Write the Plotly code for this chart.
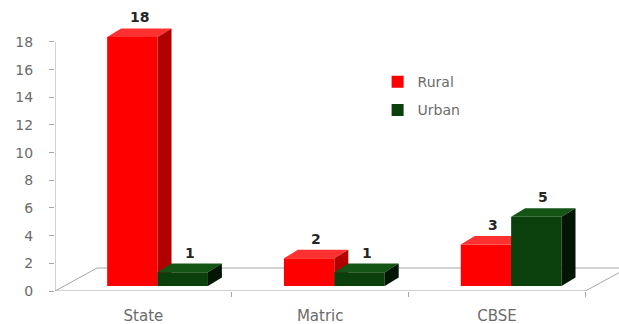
import plotly.graph_objects as go

# Data
categories = ["State", "Matric", "CBSE"]
rural = [18, 2, 3]
urban = [1, 1, 5]
y_ticks = [0, 2, 4, 6, 8, 10, 12, 14, 16, 18]

# Pseudo-3D geometry, in axis units
BAR_W = 0.285          # width of one bar's front face
RURAL_LEFT = -0.205    # left edge of the rural bar, relative to the category centre
URBAN_LEFT = RURAL_LEFT + BAR_W
BASE = 0.36            # front faces stand a little behind the floor's front edge
DEPTH_X, DEPTH_Y = 0.079, 0.62     # bar depth
FLOOR_X, FLOOR_Y = 0.238, 1.66     # floor depth
X0, X1 = -0.5, 2.5
X_RANGE = [-0.5, 2.69]
Y_RANGE = [0, 20.31]

FONT = "DejaVu Sans"
GREY = "#6b6b6b"

fig = go.Figure()


def add_series(name, values, left, front, top, side, xa, ya):
    n = len(values)
    fig.add_trace(go.Bar(
        x=[i + left + BAR_W / 2 for i in range(n)], y=values, base=[BASE] * n,
        width=BAR_W, name=name, marker=dict(color=front, line=dict(width=0)),
        xaxis=xa, yaxis=ya, hoverinfo="skip", legendgroup=name,
    ))
    for i, v in enumerate(values):
        xl = i + left
        xr = xl + BAR_W
        yt = BASE + v
        # top face
        fig.add_trace(go.Scatter(
            x=[xl, xr, xr + DEPTH_X, xl + DEPTH_X, xl],
            y=[yt, yt, yt + DEPTH_Y, yt + DEPTH_Y, yt],
            fill="toself", fillcolor=top, mode="lines", line=dict(width=0),
            showlegend=False, hoverinfo="skip", xaxis=xa, yaxis=ya,
        ))
        # right side face
        fig.add_trace(go.Scatter(
            x=[xr, xr + DEPTH_X, xr + DEPTH_X, xr, xr],
            y=[BASE, BASE + DEPTH_Y, yt + DEPTH_Y, yt, BASE],
            fill="toself", fillcolor=side, mode="lines", line=dict(width=0),
            showlegend=False, hoverinfo="skip", xaxis=xa, yaxis=ya,
        ))
        # value label above the bar
        fig.add_annotation(
            x=xl + BAR_W / 2 + DEPTH_X / 2, y=yt + DEPTH_Y, xref="x", yref="y",
            text=f"<b>{v}</b>", showarrow=False, yanchor="bottom", yshift=1,
            font=dict(family=FONT, size=14, color="#262626"),
        )


# rural on the base axes, urban on an overlay so it paints in front
add_series("Rural", rural, RURAL_LEFT, "#FF0000", "#FF3030", "#B00000", "x", "y")
add_series("Urban", urban, URBAN_LEFT, "#0B3F0B", "#145414", "#031503", "x2", "y2")

# floor parallelogram
floor = (f"M {X0},0 L {X1},0 L {X1 + FLOOR_X},{FLOOR_Y} "
         f"L {X0 + FLOOR_X},{FLOOR_Y} Z")
fig.add_shape(type="path", path=floor, xref="x", yref="y", layer="below",
              line=dict(color="#a6a6a6", width=1), fillcolor="white")
# value axis line
fig.add_shape(type="line", x0=X0, x1=X0, y0=0, y1=max(y_ticks), xref="x", yref="y",
              layer="below", line=dict(color="#a6a6a6", width=1))

fig.update_layout(
    width=619, height=324,
    margin=dict(l=55, r=0, t=10, b=33),
    paper_bgcolor="white", plot_bgcolor="white",
    barmode="overlay",
    font=dict(family=FONT, color=GREY),
    showlegend=True,
    legend=dict(
        x=0.572, y=0.80, xanchor="left", yanchor="top",
        font=dict(family=FONT, size=14, color=GREY),
        bgcolor="rgba(0,0,0,0)", tracegroupgap=7,
    ),
    xaxis=dict(
        range=X_RANGE, tickvals=[0.5, 1.5, 2.5], ticks="outside", ticklen=5,
        tickcolor="#a6a6a6", showticklabels=False, showline=False,
        showgrid=False, zeroline=False, fixedrange=True,
    ),
    yaxis=dict(
        range=Y_RANGE, tickvals=y_ticks, ticks="outside", ticklen=5,
        tickcolor="#a6a6a6", showline=False, showgrid=False, zeroline=False,
        ticklabelstandoff=13, tickfont=dict(family=FONT, size=14, color=GREY),
        fixedrange=True,
    ),
    xaxis2=dict(
        range=X_RANGE, overlaying="x", anchor="y2", tickvals=[0, 1, 2],
        ticktext=categories, ticks="", showline=False, showgrid=False,
        zeroline=False, ticklabelstandoff=14,
        tickfont=dict(family=FONT, size=15, color=GREY), fixedrange=True,
    ),
    yaxis2=dict(
        range=Y_RANGE, overlaying="y", anchor="x2", visible=False,
        showgrid=False, zeroline=False, fixedrange=True,
    ),
)

fig.write_html("out.html")
